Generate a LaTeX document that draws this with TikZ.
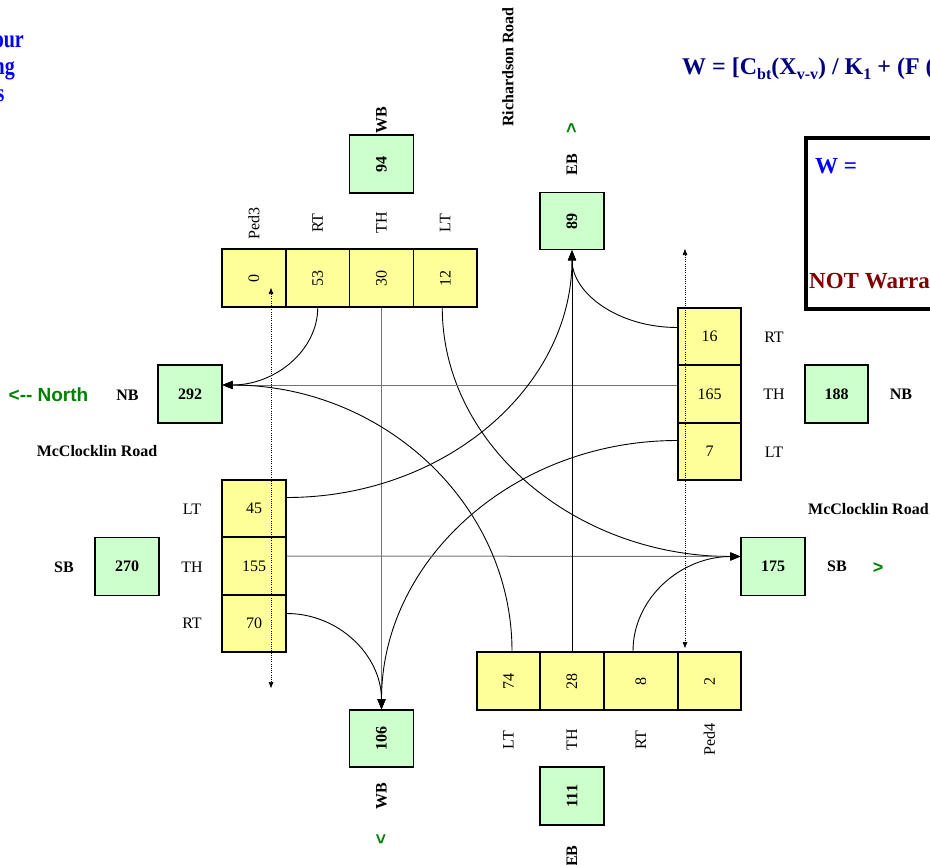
\documentclass[tikz,border=0pt]{standalone}
\usepackage{fontspec}
\setmainfont{Liberation Serif}
\setsansfont{Liberation Sans}
\usetikzlibrary{arrows.meta,calc}
\definecolor{yfill}{HTML}{FFFF99}
\definecolor{gfill}{HTML}{CCFFCC}
\definecolor{grn}{HTML}{008000}
\definecolor{navyc}{HTML}{000080}
\definecolor{redc}{HTML}{800000}
\definecolor{bluec}{HTML}{0000FF}
\newcommand\mysb[1]{\raisebox{-0.22em}{\fontsize{16}{16}\selectfont #1}}
\newcommand\myrot[1]{\rotatebox{90}{#1}}
\newcommand\mysq[1]{\scalebox{0.8}[1]{#1}}
\begin{document}
\begin{tikzpicture}[x=1pt,y=-1pt,
  ybox/.style={draw, line width=1.6pt, fill=yfill, inner sep=0pt, minimum width=63.75pt, minimum height=57.5pt, font=\fontsize{16}{16}\selectfont},
  gbox/.style={draw, line width=1.6pt, fill=gfill, inner sep=0pt, minimum width=63.75pt, minimum height=57.5pt, font=\bfseries\fontsize{16}{16}\selectfont},
  lab/.style={inner sep=0pt, font=\fontsize{16}{16}\selectfont},
  blab/.style={inner sep=0pt, font=\bfseries\fontsize{16}{16}\selectfont},
  gtxt/.style={inner sep=0pt, text=grn, font=\sffamily\bfseries\fontsize{18}{18}\selectfont},
  ttl/.style={anchor=base east, inner sep=0pt, text=bluec, font=\bfseries\fontsize{25}{25}\selectfont},
  conn/.style={line width=0.9pt, -{Triangle[length=10pt,width=8pt]}},
  thru/.style={line width=1pt, draw=black!55, -{Triangle[length=10pt,width=8pt,fill=black,color=black]}},
  ped/.style={line width=0.7pt, dash pattern=on 1pt off 1.2pt, {Triangle[length=6pt,width=4.5pt]}-{Triangle[length=6pt,width=4.5pt]}}
]
\useasboundingbox (0,0) rectangle (930,865);

% top-left title fragments
\node[ttl] (ttl1) at (24,47) {\mysq{our}};
\node[ttl] (ttl2) at (15,74) {\mysq{ng}};
\node[ttl] (ttl3) at (4.5,101) {\mysq{s}};

% formula
\node[anchor=base west, inner sep=0pt, text=navyc, font=\bfseries\fontsize{24}{24}\selectfont] (frm) at (682,74)
  {W = [C\mysb{bt}(X\mysb{v-v}) / K\mysb{1} + (F (};

% result frame
\node[draw, line width=3.5pt, anchor=north west, minimum width=160pt, minimum height=171pt, inner sep=0pt] (wbox) at (804,136) {};
\node[anchor=base west, inner sep=0pt, text=bluec, font=\bfseries\fontsize{23}{23}\selectfont] (weq) at (815,173) {W =};
\node[anchor=base west, inner sep=0pt, text=redc, font=\bfseries\fontsize{23}{23}\selectfont] (notw) at (809,288) {NOT Warra};

% top approach (westbound)
\node[ybox] (t0) at (254,278) {\myrot{0}};
\node[ybox] (t53) at (317.75,278) {\myrot{53}};
\node[ybox] (t30) at (381.5,278) {\myrot{30}};
\node[ybox] (t12) at (445.25,278) {\myrot{12}};
\node[lab] (lp3) at (254,223) {\myrot{Ped3}};
\node[lab] (lrt1) at (317.75,223) {\myrot{RT}};
\node[lab] (lth1) at (381.5,223) {\myrot{TH}};
\node[lab] (llt1) at (445.25,223) {\myrot{LT}};
\node[gbox, minimum height=58pt] (g94) at (381.5,164) {\myrot{94}};
\node[blab] (lwb1) at (381.5,120) {\myrot{WB}};
\node[blab] (rich) at (508,67) {\myrot{Richardson Road}};
\node[gbox, minimum height=57pt] (g89) at (572,221) {\myrot{89}};
\node[blab] (leb1) at (572,164.5) {\myrot{EB}};
\node[gtxt] (arrup) at (572,128) {\myrot{>}};

% right approach (northbound)
\node[ybox, minimum width=63pt] (n16) at (709.5,336.5) {16};
\node[ybox, minimum width=63pt] (n165) at (709.5,394) {165};
\node[ybox, minimum width=63pt] (n7) at (709.5,451.5) {7};
\node[lab] (lrt2) at (774,337) {RT};
\node[lab] (lth2) at (774,394) {TH};
\node[lab] (llt2) at (774,452) {LT};
\node[gbox, minimum width=63pt, minimum height=58pt] (g188) at (836.5,394) {188};
\node[blab] (lnb2) at (901,394) {NB};

% left exit (northbound)
\node[gbox, minimum height=58pt] (g292) at (190,394) {292};
\node[blab] (lnb1) at (127.5,395) {NB};
\node[gtxt, font=\sffamily\bfseries\fontsize{19}{19}\selectfont] (north) at (48.5,395) {<{-}{-} North};
\node[blab] (mcc1) at (97,451) {McClocklin Road};

% left approach (southbound)
\node[ybox] (s45) at (254,508.5) {45};
\node[ybox] (s155) at (254,566) {155};
\node[ybox] (s70) at (254,623.5) {70};
\node[lab] (llt3) at (192,509) {LT};
\node[lab] (lth3) at (192,567) {TH};
\node[lab] (lrt3) at (192,623) {RT};
\node[gbox, minimum height=58pt] (g270) at (127,566.5) {270};
\node[blab] (lsb1) at (64,567) {SB};

% right exit (southbound)
\node[gbox, minimum height=58pt] (g175) at (773,566.5) {175};
\node[blab] (lsb2) at (837,566) {SB};
\node[gtxt] (arrr) at (878,568) {>};
\node[blab, anchor=west] (mcc2) at (808,509) {McClocklin Road};

% bottom approach (eastbound)
\node[ybox, minimum width=63pt, minimum height=58pt] (b74) at (508.5,681) {\myrot{74}};
\node[ybox, minimum width=64pt, minimum height=58pt] (b28) at (572,681) {\myrot{28}};
\node[ybox, minimum width=74pt, minimum height=58pt] (b8) at (641,681) {\myrot{8}};
\node[ybox, minimum width=63pt, minimum height=58pt] (b2) at (709.5,681) {\myrot{2}};
\node[lab] (llt4) at (508.5,740) {\myrot{LT}};
\node[lab] (lth4) at (572,740) {\myrot{TH}};
\node[lab] (lrt4) at (641,740) {\myrot{RT}};
\node[lab] (lp4) at (709.5,739) {\myrot{Ped4}};
\node[gbox, minimum height=57pt] (g106) at (381.5,738.5) {\myrot{106}};
\node[blab] (lwb2) at (381.5,796) {\myrot{WB}};
\node[gtxt] (arrdn) at (381.5,839) {\myrot{<}};
\node[gbox, minimum height=58pt] (g111) at (572,796) {\myrot{111}};
\node[blab] (leb2) at (572,856) {\myrot{EB}};

% connector end points
\coordinate (e292) at ([yshift=9pt]g292.east);
\coordinate (e175) at ([yshift=10pt]g175.west);
\coordinate (e89) at (g89.south);
\coordinate (e106) at (g106.north);

% westbound movements
\draw[conn] (t53.south) .. controls ($(t53.south)+(0,42.5)$) and ($(e292)+(53,0)$) .. (e292);
\draw[thru] (t30.south) -- (e106);
\coordinate (a3) at ([xshift=-3pt]t12.south);
\draw[conn] (a3) .. controls ($(a3)+(0,137)$) and ($(e175)+(-165,0)$) .. (e175);

% northbound movements
\coordinate (a4) at ([yshift=9pt]n16.west);
\draw[conn] (a4) .. controls ($(a4)+(-59,0)$) and ($(e89)+(0,43)$) .. (e89);
\draw[thru] ([yshift=9pt]n165.west) -- (e292);
\coordinate (a6) at ([yshift=11pt]n7.west);
\draw[conn] (a6) .. controls ($(a6)+(-164,0)$) and ($(e106)+(0,-149)$) .. (e106);

% southbound movements
\coordinate (a7) at ([yshift=11pt]s45.east);
\draw[conn] (a7) .. controls ($(a7)+(158,0)$) and ($(e89)+(0,137)$) .. (e89);
\draw[thru] ([yshift=10pt]s155.east) -- (e175);
\coordinate (a9) at ([yshift=10pt]s70.east);
\draw[conn] (a9) .. controls ($(a9)+(52.5,0)$) and ($(e106)+(0,-53.5)$) .. (e106);

% eastbound movements
\coordinate (a10) at ([xshift=3.5pt]b74.north);
\draw[conn] (a10) .. controls ($(a10)+(0,-147.5)$) and ($(e292)+(160,0)$) .. (e292);
\draw[conn] (b28.north) -- (e89);
\coordinate (a12) at ([xshift=-8pt]b8.north);
\draw[conn] (a12) .. controls ($(a12)+(0,-53)$) and ($(e175)+(-59.5,0)$) .. (e175);

% pedestrian crossings
\coordinate (p3t) at (271,288);
\coordinate (p3b) at (271,688);
\draw[ped] (p3b) -- (p3t);
\coordinate (p4t) at (685,249);
\coordinate (p4b) at (685,648);
\draw[ped] (p4t) -- (p4b);
\end{tikzpicture}
\end{document}
